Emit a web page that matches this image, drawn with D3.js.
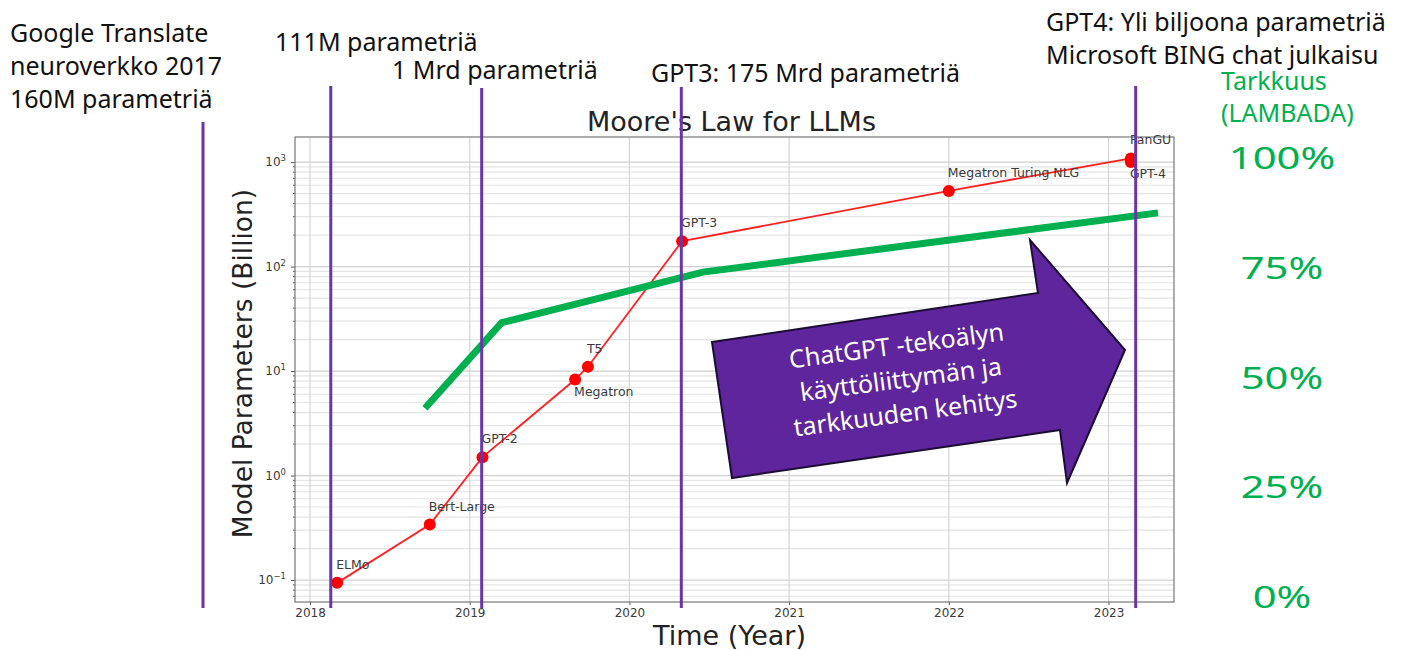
<!DOCTYPE html>
<html>
<head>
<meta charset="utf-8">
<script src="https://cdn.jsdelivr.net/npm/d3@7"></script>
<style>
  body { margin: 0; background: #fff; }
  svg { display: block; }
</style>
</head>
<body>
<div id="chart-area"></div>
<script>
// model data
const models = ["ELMo", "Bert-Large", "GPT-2", "Megatron", "T5", "GPT-3", "Megatron Turing NLG", "PanGU", "GPT-4"]
const modelYears = [2018.17, 2018.75, 2019.08, 2019.66, 2019.74, 2020.33, 2022.0, 2023.14, 2023.14]
const modelParams = [0.094, 0.34, 1.5, 8.3, 11, 175, 530, 1085, 1000]

// accuracy (LAMBADA) line
const accYears = [2018.72, 2019.2, 2020.46, 2023.31]
const accValues = [43, 62.5, 74, 87.5]
const accTicks = [0, 25, 50, 75, 100]

// milestone lines
const milestoneYears = [2017.33, 2018.13, 2019.075, 2020.325, 2023.17]

const xTicks = [2018, 2019, 2020, 2021, 2022, 2023]
const yTicks = [-1, 0, 1, 2, 3]

const W = 1405, H = 650
const margin = {top: 137, right: 231, bottom: 48, left: 295},
      width = W - margin.left - margin.right,
      height = H - margin.top - margin.bottom

const svg = d3.select("#chart-area")
  .append("svg")
    .attr("width", W)
    .attr("height", H)

const g = svg.append("g")
  .attr("transform", `translate(${margin.left},${margin.top})`)

// scales
const x = d3.scaleLinear()
  .domain([2017.906, 2023.41])
  .range([0, width])

const y = d3.scaleLog()
  .domain([Math.pow(10, -1.21), Math.pow(10, 3.24)])
  .range([height, 0])

// accuracy scale (page coords)
const acc = d3.scaleLinear().domain([0, 100]).range([597, 158])

// grid - minor horizontal lines
const minor = []
for (let e = -2; e <= 3; e++) {
  for (let m = 2; m <= 9; m++) {
    const v = m * Math.pow(10, e)
    if (v > y.domain()[0] && v < y.domain()[1]) minor.push(v)
  }
}
g.append("g").selectAll("line")
  .data(minor)
  .join("line")
    .attr("x1", 0).attr("x2", width)
    .attr("y1", d => y(d)).attr("y2", d => y(d))
    .attr("stroke", "#e4e4e4")
    .attr("stroke-width", 1.2)

g.append("g").selectAll("line")
  .data(yTicks)
  .join("line")
    .attr("x1", 0).attr("x2", width)
    .attr("y1", d => y(Math.pow(10, d))).attr("y2", d => y(Math.pow(10, d)))
    .attr("stroke", "#cfcfcf")
    .attr("stroke-width", 1.2)

g.append("g").selectAll("line")
  .data(xTicks)
  .join("line")
    .attr("x1", d => x(d)).attr("x2", d => x(d))
    .attr("y1", 0).attr("y2", height)
    .attr("stroke", "#d4d4d4")
    .attr("stroke-width", 1.2)

// axes
const xAxis = g.append("g")
  .attr("transform", `translate(0,${height})`)
  .call(d3.axisBottom(x).tickValues(xTicks).tickFormat(d3.format("d")).tickSize(3).tickPadding(3))
xAxis.select(".domain").remove()
xAxis.selectAll("text")
  .attr("font-family", "DejaVu Sans")
  .attr("font-size", 12)
  .attr("fill", "#3a3a3a")
xAxis.selectAll("line").attr("stroke", "#555")

const yAxis = g.append("g")
  .call(d3.axisLeft(y).tickValues(yTicks.map(d => Math.pow(10, d))).tickFormat("").tickSize(4))
yAxis.select(".domain").remove()
yAxis.selectAll("line").attr("stroke", "#555")

g.append("g").selectAll("line")
  .data(minor)
  .join("line")
    .attr("x1", -2).attr("x2", 0)
    .attr("y1", d => y(d)).attr("y2", d => y(d))
    .attr("stroke", "#555")

const yLab = g.append("g").selectAll("text")
  .data(yTicks)
  .join("text")
    .attr("x", -9)
    .attr("y", d => y(Math.pow(10, d)) + 4)
    .attr("text-anchor", "end")
    .attr("font-family", "DejaVu Sans")
    .attr("font-size", 12)
    .attr("fill", "#3a3a3a")
yLab.append("tspan").text("10")
yLab.append("tspan")
  .attr("dy", -5)
  .attr("font-size", 8.5)
  .text(d => d < 0 ? "\u2212" + Math.abs(d) : d)

// frame
g.append("rect")
  .attr("width", width)
  .attr("height", height)
  .attr("fill", "none")
  .attr("stroke", "#777")
  .attr("stroke-width", 1.2)

// titles
g.append("text")
  .attr("x", width / 2 - 3)
  .attr("y", -6)
  .attr("text-anchor", "middle")
  .attr("font-family", "DejaVu Sans")
  .attr("font-size", 27)
  .attr("fill", "#222")
  .text("Moore's Law for LLMs")

g.append("text")
  .attr("x", width / 2 - 5)
  .attr("y", height + 43)
  .attr("text-anchor", "middle")
  .attr("font-family", "DejaVu Sans")
  .attr("font-size", 27)
  .attr("fill", "#222")
  .text("Time (Year)")

g.append("text")
  .attr("transform", `translate(-43,${height / 2 - 6}) rotate(-90)`)
  .attr("text-anchor", "middle")
  .attr("font-family", "DejaVu Sans")
  .attr("font-size", 26.5)
  .attr("fill", "#222")
  .text("Model Parameters (Billion)")

// model line + markers
const pts = models.map((m, i) => ({name: m, year: modelYears[i], value: modelParams[i]}))

g.append("path")
  .datum(pts)
  .attr("fill", "none")
  .attr("stroke", "#ff2020")
  .attr("stroke-width", 1.8)
  .attr("d", d3.line().x(d => x(d.year)).y(d => y(d.value)))

g.append("g").selectAll("circle")
  .data(pts)
  .join("circle")
    .attr("cx", d => x(d.year))
    .attr("cy", d => y(d.value))
    .attr("r", 6)
    .attr("fill", "#ff0000")

const below = ["Megatron", "GPT-4"]
g.append("g").selectAll("text")
  .data(pts)
  .join("text")
    .attr("x", d => x(d.year) - 1)
    .attr("y", d => y(d.value) + (below.includes(d.name) ? 16 : -14))
    .attr("font-family", "DejaVu Sans")
    .attr("font-size", 12.5)
    .attr("fill", "#3a3a3a")
    .text(d => d.name)

// accuracy line (green)
svg.append("path")
  .datum(accYears.map((d, i) => [d, accValues[i]]))
  .attr("fill", "none")
  .attr("stroke", "#00b050")
  .attr("stroke-width", 7)
  .attr("d", d3.line().x(d => margin.left + x(d[0])).y(d => acc(d[1])))

// accuracy labels
svg.append("g").selectAll("text")
  .data(accTicks)
  .join("text")
    .attr("transform", d => `translate(1282,${acc(d) + 11}) scale(1.35,1)`)
    .attr("text-anchor", "middle")
    .attr("font-family", "Noto Sans")
    .attr("font-size", 31)
    .attr("fill", "#00b050")
    .text(d => d + "%")

svg.append("text")
  .attr("font-family", "Noto Sans")
  .attr("font-size", 25)
  .attr("fill", "#00b050")
  .selectAll("tspan")
  .data(["Tarkkuus", "(LAMBADA)"])
  .join("tspan")
    .attr("x", 1221)
    .attr("y", (d, i) => 90 + i * 32)
    .text(d => d)

// milestone vertical lines
const lineTops = [122, 86, 88, 87, 86]
svg.append("g").selectAll("line")
  .data(milestoneYears)
  .join("line")
    .attr("x1", d => margin.left + x(d))
    .attr("x2", d => margin.left + x(d))
    .attr("y1", (d, i) => lineTops[i])
    .attr("y2", 608)
    .attr("stroke", "#6a35a8")
    .attr("stroke-width", 3)

// arrow annotation
const arrow = [[712, 342], [1038, 293], [1030, 240], [1125, 350], [1067, 483], [1060, 430], [732, 478]]
svg.append("polygon")
  .attr("points", arrow.map(p => p.join(",")).join(" "))
  .attr("fill", "#5e259c")
  .attr("stroke", "#1c0d33")
  .attr("stroke-width", 2)

svg.append("text")
  .attr("transform", "translate(902,388) rotate(-7.5)")
  .attr("text-anchor", "middle")
  .attr("font-family", "Noto Sans")
  .attr("font-size", 25)
  .attr("fill", "#fff")
  .selectAll("tspan")
  .data(["ChatGPT -tekoälyn", "käyttöliittymän ja", "tarkkuuden kehitys"])
  .join("tspan")
    .attr("x", 0)
    .attr("y", (d, i) => -34 + i * 34)
    .text(d => d)

// milestone text
const notes = [
  {lines: ["Google Translate", "neuroverkko 2017", "160M parametriä"], x: 10, y: 42},
  {lines: ["111M parametriä"], x: 275, y: 51},
  {lines: ["1 Mrd parametriä"], x: 392, y: 79},
  {lines: ["GPT3: 175 Mrd parametriä"], x: 651, y: 82},
  {lines: ["GPT4: Yli biljoona parametriä", "Microsoft BING chat julkaisu"], x: 1046, y: 31}
]
notes.forEach(n => {
  svg.append("text")
    .attr("font-family", "Noto Sans")
    .attr("font-size", 25)
    .attr("fill", "#111")
    .selectAll("tspan")
    .data(n.lines)
    .join("tspan")
      .attr("x", n.x)
      .attr("y", (d, i) => n.y + i * 33)
      .text(d => d)
})
</script>
</body>
</html>
